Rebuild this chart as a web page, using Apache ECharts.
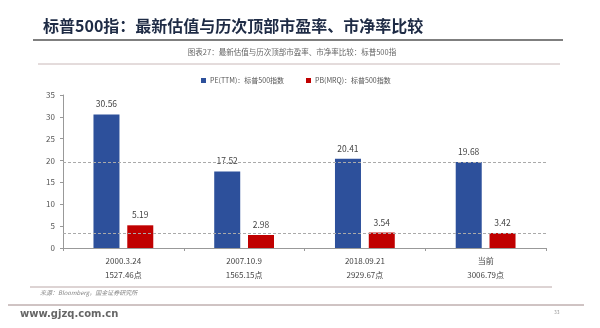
<!DOCTYPE html>
<html>
<head>
<meta charset="utf-8">
<script src="https://cdn.jsdelivr.net/npm/echarts@6/dist/echarts.min.js"></script>
<style>
html,body{margin:0;padding:0;background:#fff;}
#c{width:600px;height:328px;}
</style>
</head>
<body>
<div id="c"></div>
<script>
var dates = ['2000.3.24', '2007.10.9', '2018.09.21', '当前'];
var points = ['1527.46点', '1565.15点', '2929.67点', '3006.79点'];
var peValues = [30.56, 17.52, 20.41, 19.68];
var pbValues = [5.19, 2.98, 3.54, 3.42];
var yTicks = [0, 5, 10, 15, 20, 25, 30, 35];
var peName = 'PE(TTM)：标普500指数';
var pbName = 'PB(MRQ)：标普500指数';
var currentPE = peValues[3];
var currentPB = pbValues[3];

var categories = dates.map(function (d, i) { return d + '\n' + points[i]; });
var FONT = '"Noto Sans CJK SC", "Noto Sans", sans-serif';

var chart = echarts.init(document.getElementById('c'), null, {renderer: 'canvas'});
chart.setOption({
  backgroundColor: '#fff',
  animation: false,
  textStyle: {fontFamily: FONT},
  title: [{
    text: '标普500指：最新估值与历次顶部市盈率、市净率比较',
    left: 38, top: 13,
    textStyle: {fontSize: 16, fontWeight: 'bold', color: '#1e2b45', fontFamily: FONT}
  }],
  legend: {
    top: 72, left: 196,
    itemWidth: 5, itemHeight: 5, itemGap: 22,
    icon: 'rect',
    textStyle: {fontSize: 7, color: '#555', fontFamily: FONT, padding: [0, 0, 0, -1]},
    data: [peName, pbName]
  },
  grid: {left: 63, right: 54, top: 95, bottom: 80},
  xAxis: {
    type: 'category',
    data: categories,
    axisLine: {lineStyle: {color: '#999', width: 1}},
    axisTick: {show: true, length: 3, lineStyle: {color: '#999'}},
    axisLabel: {fontSize: 8, color: '#444', lineHeight: 14, margin: 6, fontFamily: FONT}
  },
  yAxis: {
    type: 'value',
    min: yTicks[0], max: yTicks[yTicks.length - 1], interval: 5,
    axisLine: {show: true, lineStyle: {color: '#999'}},
    axisTick: {show: true, length: 3, lineStyle: {color: '#999'}},
    splitLine: {show: false},
    axisLabel: {fontSize: 8, color: '#555', margin: 8, fontFamily: FONT}
  },
  series: [{
    name: peName,
    type: 'bar',
    data: peValues,
    barWidth: 26,
    barGap: '30%',
    itemStyle: {color: '#2d509b'},
    label: {show: true, position: 'top', fontSize: 8.5, color: '#444', distance: 6, fontFamily: FONT},
    markLine: {
      silent: true, symbol: 'none',
      label: {show: false},
      lineStyle: {type: [3, 2], color: '#aaa', width: 1},
      data: [{yAxis: currentPE}]
    }
  }, {
    name: pbName,
    type: 'bar',
    data: pbValues,
    barWidth: 26,
    itemStyle: {color: '#c00000'},
    label: {show: true, position: 'top', fontSize: 8.5, color: '#444', distance: 6, fontFamily: FONT},
    markLine: {
      silent: true, symbol: 'none',
      label: {show: false},
      lineStyle: {type: [3, 2], color: '#aaa', width: 1},
      data: [{yAxis: currentPB}]
    }
  }],
  graphic: [
    {type: 'line', shape: {x1: 33, y1: 40, x2: 563, y2: 40}, style: {stroke: '#555', lineWidth: 1.5}},
    {type: 'text', x: 292, y: 52, style: {text: '图表27：最新估值与历次顶部市盈率、市净率比较：标普500指', fontSize: 7.5, fill: '#666', align: 'center', verticalAlign: 'middle', fontFamily: FONT}},
    {type: 'line', shape: {x1: 38, y1: 64, x2: 560, y2: 64}, style: {stroke: '#c9b8b8', lineWidth: 1}},
    {type: 'line', shape: {x1: 30, y1: 287, x2: 552, y2: 287}, style: {stroke: '#bba8a8', lineWidth: 1}},
    {type: 'text', x: 40, y: 293, style: {text: '来源：Bloomberg，国金证券研究所', fontSize: 6, fontStyle: 'italic', fill: '#888', verticalAlign: 'middle', fontFamily: FONT}},
    {type: 'line', shape: {x1: 8, y1: 305, x2: 584, y2: 305}, style: {stroke: '#a08888', lineWidth: 1}},
    {type: 'text', x: 20, y: 314, style: {text: 'www.gjzq.com.cn', fontSize: 10, fontWeight: 'bold', fill: '#666', verticalAlign: 'middle', fontFamily: '"DejaVu Sans", sans-serif'}},
    {type: 'text', x: 554, y: 312, style: {text: '33', fontSize: 5, fill: '#999', verticalAlign: 'middle', fontFamily: FONT}}
  ]
});
</script>
</body>
</html>
